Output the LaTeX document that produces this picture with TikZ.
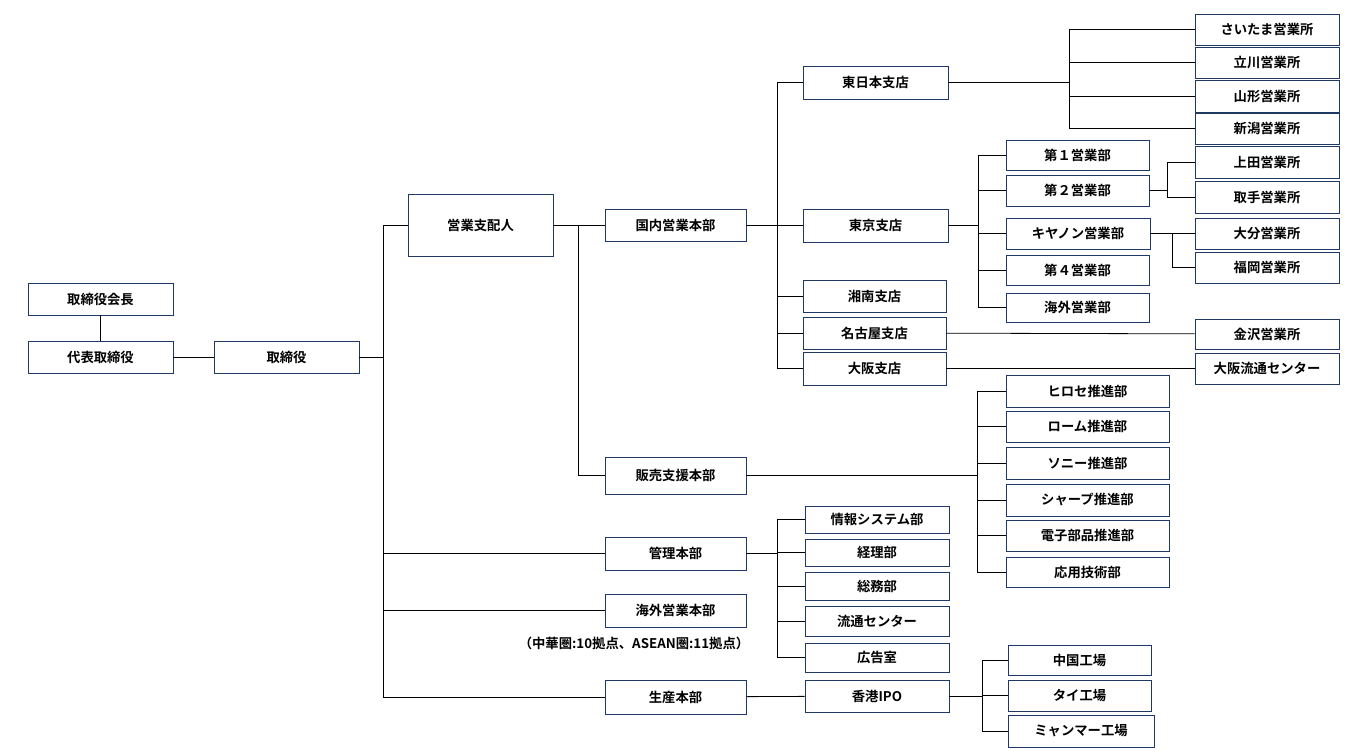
\documentclass[tikz,border=0pt]{standalone}
\usepackage{fontspec}
\newfontfamily\jp{Noto Sans CJK JP}[BoldFont={Noto Sans CJK JP Bold}]
\usepackage{tikz}
\usetikzlibrary{positioning}
\definecolor{navy}{RGB}{31,56,100}
\tikzset{
  box/.style={rectangle, draw=navy, fill=white, inner sep=0pt, font=\jp\bfseries\fontsize{10}{12}\selectfont, text centered},
  link/.style={draw=black, line width=0.6pt}
}
% box: name, left, top, right, bottom, text
\newcommand\bx[6]{\node[box, minimum width={(#4-#2)*0.75pt}, minimum height={(#5-#3)*0.75pt}] (#1) at ({(#2+#4)/2},{(#3+#5)/2}) {#6};}
\begin{document}
\begin{tikzpicture}[x=0.75pt, y=-0.75pt]
  \useasboundingbox (0,0) rectangle (1353,753);

  % left side
  \bx{kaicho}{28}{283}{173}{315}{取締役会長}
  \bx{daihyo}{28}{341}{173}{373}{代表取締役}
  \bx{torishimari}{214}{341}{359}{373}{取締役}
  \bx{shihai}{408}{194}{553}{256}{営業支配人}

  % headquarters
  \bx{kokunai}{605}{209}{746}{241}{国内営業本部}
  \bx{hanbai}{605}{457}{746}{494}{販売支援本部}
  \bx{kanri}{605}{537}{746}{570}{管理本部}
  \bx{kaigai}{605}{594}{746}{627}{海外営業本部}
  \bx{seisan}{605}{680}{746}{714}{生産本部}
  \node[font=\jp\bfseries\fontsize{10}{12}\selectfont] (kaigainote) at (634,643) {（中華圏:10拠点、ASEAN圏:11拠点）};

  % branches
  \bx{higashi}{803}{66}{948}{99}{東日本支店}
  \bx{tokyo}{803}{209}{948}{242}{東京支店}
  \bx{shonan}{803}{280}{946}{312}{湘南支店}
  \bx{nagoya}{803}{317}{946}{349}{名古屋支店}
  \bx{osaka}{803}{352}{946}{385}{大阪支店}
  \bx{joho}{805}{506}{949}{533}{情報システム部}
  \bx{keiri}{805}{539}{949}{566}{経理部}
  \bx{somu}{805}{572}{949}{600}{総務部}
  \bx{ryutsu}{805}{606}{949}{636}{流通センター}
  \bx{kokoku}{805}{643}{949}{672}{広告室}
  \bx{hongkong}{805}{680}{949}{712}{香港IPO}

  % sales offices
  \bx{saitama}{1195}{14}{1339}{45}{さいたま営業所}
  \bx{tachikawa}{1195}{47}{1339}{78}{立川営業所}
  \bx{yamagata}{1195}{80}{1339}{112}{山形営業所}
  \bx{niigata}{1195}{113}{1339}{144}{新潟営業所}
  \bx{dai1}{1006}{140}{1149}{170}{第１営業部}
  \bx{dai2}{1006}{175}{1149}{206}{第２営業部}
  \bx{canon}{1006}{218}{1150}{249}{キヤノン営業部}
  \bx{dai4}{1006}{255}{1149}{285}{第４営業部}
  \bx{kaigaibu}{1006}{293}{1149}{322}{海外営業部}
  \bx{ueda}{1195}{146}{1339}{178}{上田営業所}
  \bx{toride}{1195}{181}{1339}{213}{取手営業所}
  \bx{oita}{1195}{218}{1339}{249}{大分営業所}
  \bx{fukuoka}{1195}{252}{1339}{283}{福岡営業所}
  \bx{kanazawa}{1195}{319}{1339}{349}{金沢営業所}
  \bx{osakaryutsu}{1195}{353}{1339}{384}{大阪流通センター}

  % promotion
  \bx{hirose}{1006}{375}{1169}{407}{ヒロセ推進部}
  \bx{rohm}{1006}{411}{1169}{442}{ローム推進部}
  \bx{sony}{1006}{447}{1169}{479}{ソニー推進部}
  \bx{sharp}{1006}{484}{1169}{516}{シャープ推進部}
  \bx{denshi}{1006}{520}{1169}{551}{電子部品推進部}
  \bx{oyo}{1006}{557}{1169}{587}{応用技術部}

  % factories
  \bx{china}{1008}{645}{1151}{675}{中国工場}
  \bx{thai}{1008}{680}{1151}{711}{タイ工場}
  \bx{myanmar}{1008}{715}{1154}{747}{ミャンマー工場}

  % connectors
  \draw[link] (kaicho) -- (daihyo);
  \draw[link] (daihyo) -- (torishimari);
  \draw[link] (torishimari.east) -- ++(24,0) coordinate (t0);
  \foreach \n in {shihai,kanri,kaigai,seisan} \draw[link] (t0) |- (\n.west);
  \draw[link] (shihai.east |- kokunai) -- (kokunai.west);
  \coordinate (t1) at (578,225);
  \draw[link] (t1) |- (hanbai.west);
  \draw[link] (kokunai.east) -- ++(31,0) coordinate (t2);
  \foreach \n in {higashi,tokyo,shonan,nagoya,osaka} \draw[link] (t2) |- (\n.west);
  \draw[link] (higashi.east) -- ++(121,0) coordinate (t3);
  \foreach \n in {saitama,tachikawa,yamagata,niigata} \draw[link] (t3) |- (\n.west);
  \draw[link] (tokyo.east) -- ++(30,0) coordinate (t4);
  \foreach \n in {dai1,dai2,canon,dai4,kaigaibu} \draw[link] (t4) |- (\n.west);
  \draw[link] (dai2.east) -- ++(18,0) coordinate (t5);
  \foreach \n in {ueda,toride} \draw[link] (t5) |- (\n.west);
  \draw[link] (canon.east) -- ++(22,0) coordinate (t6);
  \foreach \n in {oita,fukuoka} \draw[link] (t6) |- (\n.west);
  \draw[link] (nagoya) -- (kanazawa);
  \draw[link] (osaka.east) -- (osakaryutsu.west);
  \draw[link] (hanbai.east) -- ++(231,0) coordinate (t7);
  \foreach \n in {hirose,rohm,sony,sharp,denshi,oyo} \draw[link] (t7) |- (\n.west);
  \draw[link] (kanri.east) -- ++(31,0) coordinate (t8);
  \foreach \n in {joho,keiri,somu,ryutsu,kokoku} \draw[link] (t8) |- (\n.west);
  \draw[link] (seisan) -- (hongkong);
  \draw[link] (hongkong.east) -- ++(33,0) coordinate (t9);
  \foreach \n in {china,thai,myanmar} \draw[link] (t9) |- (\n.west);
\end{tikzpicture}
\end{document}
